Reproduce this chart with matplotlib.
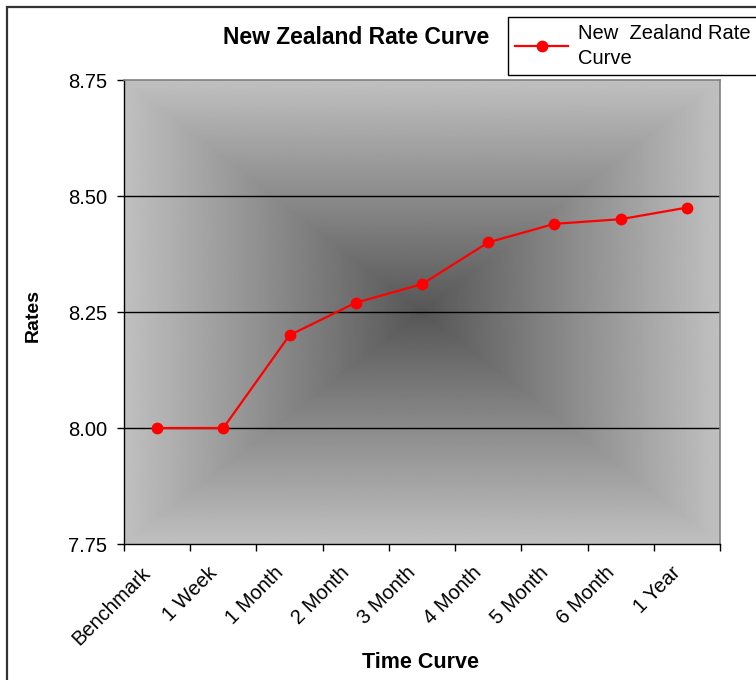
import numpy as np
import matplotlib
matplotlib.use("Agg")
import matplotlib.pyplot as plt
import matplotlib.transforms as mtransforms
from matplotlib.patches import Rectangle
from matplotlib.lines import Line2D

plt.rcParams['font.family'] = ['Liberation Sans', 'DejaVu Sans']

categories = ["Benchmark", "1 Week", "1 Month", "2 Month", "3 Month",
              "4 Month", "5 Month", "6 Month", "1 Year"]
rates = [8.00, 8.00, 8.20, 8.27, 8.31, 8.40, 8.44, 8.45, 8.475]
y_ticks = [7.75, 8.00, 8.25, 8.50, 8.75]
y_tick_labels = ["7.75", "8.00", "8.25", "8.50", "8.75"]
series_name = "New  Zealand Rate\nCurve"

W, H = 756, 680
fig = plt.figure(figsize=(W / 100, H / 100), dpi=100)
fig.patch.set_facecolor("white")

# outer chart frame (runs past the right and bottom edges)
fig.patches.append(Rectangle((7 / W, -0.05), 1.2, 1 - 7 / H + 0.05,
                             transform=fig.transFigure, fill=False,
                             edgecolor="#333333", linewidth=1.6))

ax = fig.add_axes([124 / W, 1 - 544 / H, (720 - 124) / W, (544 - 80) / H])

# rectangular "from center" gradient behind the plot
n = 600
gx = np.linspace(-1, 1, n)
gy = np.linspace(-1, 1, n)
XX, YY = np.meshgrid(gx, gy)
t = np.maximum(np.abs(XX), np.abs(YY))
light, dark = 192, 86
img = (dark + (light - dark) * t) / 255.0
ax.imshow(img, cmap="gray", vmin=0, vmax=1, extent=[0, 1, 0, 1],
          transform=ax.transAxes, aspect="auto", zorder=0, interpolation="bilinear")

x = np.arange(len(categories))
ax.set_xlim(-0.5, len(categories) - 0.5)
ax.set_ylim(7.75, 8.75)

for yv in y_ticks[1:-1]:
    ax.axhline(yv, color="black", linewidth=1.0, zorder=1)

ax.plot(x, rates, color="#ff0000", linewidth=1.6, marker="o",
        markersize=8.5, markeredgewidth=0, zorder=3)

ax.set_yticks(y_ticks)
ax.set_yticklabels(y_tick_labels, fontsize=14.5)
ax.tick_params(axis="y", direction="out", length=5, width=1, color="black", pad=7)

# category labels sit at centers, tick marks at boundaries
ax.set_xticks(x)
ax.set_xticklabels(categories, fontsize=14.5, rotation=45, ha="right", va="top",
                   rotation_mode="anchor")
ax.tick_params(axis="x", which="major", length=0, pad=14)
shift = mtransforms.ScaledTranslation(-16 / 100, 0, fig.dpi_scale_trans)
for lbl in ax.get_xticklabels():
    lbl.set_transform(lbl.get_transform() + shift)
ax.set_xticks(np.arange(len(categories) + 1) - 0.5, minor=True)
ax.tick_params(axis="x", which="minor", direction="out", length=5, width=1, color="black")

for side in ("top", "right"):
    ax.spines[side].set_color("#808080")
    ax.spines[side].set_linewidth(1.2)
for side in ("left", "bottom"):
    ax.spines[side].set_color("black")
    ax.spines[side].set_linewidth(1.0)

fig.text(356 / W, 1 - 37 / H, "New Zealand Rate Curve", fontsize=16.5,
         fontweight="bold", ha="center", va="center")
fig.text(33 / W, 1 - 316 / H, "Rates", fontsize=14, fontweight="bold",
         rotation=90, ha="center", va="center")
fig.text(421 / W, 1 - 662 / H, "Time Curve", fontsize=15.5, fontweight="bold",
         ha="center", va="center")

handle = Line2D([], [], color="#ff0000", linewidth=1.6, marker="o",
                markersize=8.5, markeredgewidth=0)
leg = fig.legend([handle], [series_name], loc="upper left",
                 bbox_to_anchor=(508 / W, 1 - 17 / H), borderaxespad=0,
                 fancybox=False, framealpha=1, edgecolor="black",
                 fontsize=14.5, handlelength=2.65, handletextpad=0.5,
                 borderpad=0.35, labelspacing=0.2)
leg.get_frame().set_linewidth(1.0)
for txt in leg.get_texts():
    txt.set_linespacing(1.4)

fig.savefig("out.png", dpi=100)
